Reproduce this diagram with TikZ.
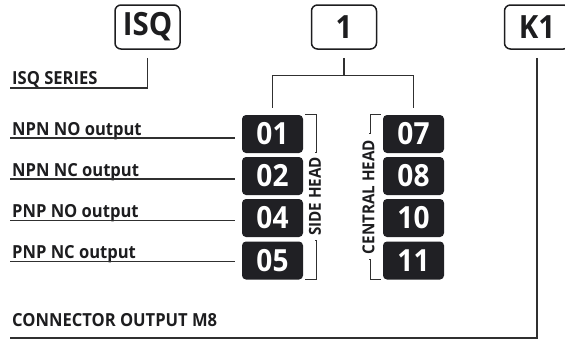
\documentclass[tikz,border=0pt]{standalone}
\usepackage{fontspec}
\setmainfont{Open Sans}[FakeStretch=0.92]
\usetikzlibrary{calc}
\definecolor{ink}{HTML}{1D1D1F}
\definecolor{boxfill}{HTML}{202024}
\definecolor{wire}{HTML}{303030}
\tikzset{
  topbox/.style={draw=ink, line width=1.5pt, rounded corners=6pt, minimum width=65pt, minimum height=44pt, inner sep=0pt, text=ink, font=\fontsize{32}{32}\selectfont\bfseries},
  codebox/.style={fill=boxfill, rounded corners=4pt, minimum width=61pt, minimum height=38pt, inner sep=0pt, text=white, font=\fontsize{30.5}{30.5}\selectfont\bfseries},
  lab/.style={anchor=base west, inner sep=0pt, text=ink, font=\fontsize{18}{18}\selectfont\bfseries},
  headlab/.style={rotate=90, inner sep=0pt, text=ink, font=\fontsize{16.5}{16.5}\selectfont\bfseries},
  wireline/.style={draw=wire, line width=1.2pt},
}
\begin{document}
\begin{tikzpicture}[x=1pt,y=-1pt]
\useasboundingbox (0,0) rectangle (565,340);
\clip (0,0) rectangle (565,340);
% top boxes
\node[topbox] (isq) at (147.5,27) {ISQ};
\node[topbox] (one) at (344,27) {1};
\node[topbox] (k1) at (537,27) {K1};
% code boxes
\node[codebox] (b01) at (272.5,134) {01};
\node[codebox] (b02) at (272.5,176) {02};
\node[codebox] (b04) at (272.5,218) {04};
\node[codebox] (b05) at (272.5,260.5) {05};
\node[codebox] (b07) at (413.5,134) {07};
\node[codebox] (b08) at (413.5,176) {08};
\node[codebox] (b10) at (413.5,218) {10};
\node[codebox] (b11) at (413.5,260.5) {11};
% labels
\node[lab] (l0) at (12,84) {ISQ SERIES};
\node[lab] (l1) at (12,135) {NPN NO output};
\node[lab] (l2) at (12,176) {NPN NC output};
\node[lab] (l4) at (12,217) {PNP NO output};
\node[lab] (l5) at (12,258) {PNP NC output};
\node[lab] (lc) at (12,326) {CONNECTOR OUTPUT M8};
% head labels
\node[headlab] (side) at (315,196.5) {SIDE HEAD};
\node[headlab] (central) at (368.5,197) {CENTRAL HEAD};
% connectors
\draw[wireline] ($(isq.south)+(0,8)$) |- ($(l0.base west)+(-2,4)$);
\coordinate (j) at ($(one.south)+(0,26)$);
\draw[wireline] ($(one.south)+(0,8)$) -- (j);
\draw[wireline] ($(b01.north)+(0,-7)$) |- (j) -| ($(b07.north)+(0,-7)$);
\draw[wireline] ($(k1.south)+(0,8)$) |- ($(lc.base west)+(-2,12)$);
\draw[wireline] ($(l1.base west)+(-2,3)$) -- ($(b01.west |- l1.base)+(-7,3)$);
\draw[wireline] ($(l2.base west)+(-2,3)$) -- ($(b02.west |- l2.base)+(-7,3)$);
\draw[wireline] ($(l4.base west)+(-2,3.5)$) -- ($(b04.west |- l4.base)+(-7,3.5)$);
\draw[wireline] ($(l5.base west)+(-2,3.5)$) -- ($(b05.west |- l5.base)+(-7,3.5)$);
% brackets
\draw[wireline] ($(b01.north east)+(2,0)$) -- ++(11,0) |- ($(side.east)+(0,-4)$);
\draw[wireline] ($(b05.south east)+(2,0)$) -- ++(11,0) |- ($(side.west)+(0,4)$);
\draw[wireline] ($(b07.north west)+(-2,0)$) -- ++(-10,0) |- ($(central.east)+(0,-6)$);
\draw[wireline] ($(b11.south west)+(-2,0)$) -- ++(-10,0) |- ($(central.west)+(0,5)$);
\end{tikzpicture}
\end{document}
